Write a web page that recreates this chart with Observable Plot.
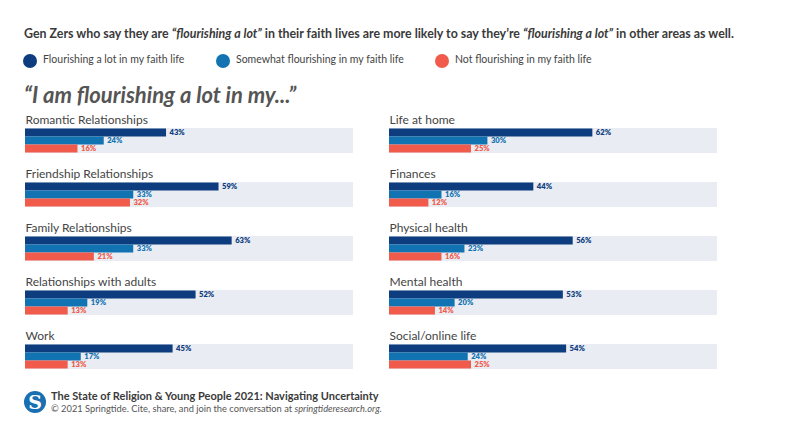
<!DOCTYPE html>
<html>
<head>
<meta charset="utf-8">
<script src="https://cdn.jsdelivr.net/npm/d3@7"></script>
<script src="https://cdn.jsdelivr.net/npm/@observablehq/plot@0.6"></script>
<style>
  html, body { margin: 0; padding: 0; background: #fff; }
  body { width: 790px; height: 428px; position: relative; overflow: hidden; font-family: Lato, "Open Sans", sans-serif; color: #444; }
  .abs { position: absolute; white-space: nowrap; }
  #title { left: 24px; top: 26px; font-size: 12.4px; font-weight: 700; color: #3a3a3a; }
  #legend { left: 0; top: 53px; font-size: 10.5px; color: #444; }
  .sw { position: absolute; width: 14px; height: 14px; border-radius: 50%; }
  .lt { position: absolute; top: 0; }
  #subtitle { left: 24px; top: 81px; font-size: 22px; font-weight: 700; font-style: italic; color: #555; }
  #chart { position: absolute; left: 0; top: 100px; }
  #logo { left: 24px; top: 391px; width: 22px; height: 22px; border-radius: 50%; background: #1a6fb0; color: #fff; font-weight: 900; font-size: 19px; line-height: 22px; text-align: center; font-family: "DejaVu Serif", serif; }
  #foot1 { left: 51px; top: 389px; font-size: 11px; font-weight: 700; color: #3a3a3a; }
  #foot2 { left: 51px; top: 403px; font-size: 9.3px; color: #555; }
</style>
</head>
<body>
<div id="title" class="abs"></div>
<div id="legend" class="abs"></div>
<div id="subtitle" class="abs"></div>
<div id="chart"></div>
<div id="logo" class="abs">S</div>
<div id="foot1" class="abs"></div>
<div id="foot2" class="abs"></div>
<script>
const titleHtml = "Gen Zers who say they are <i>“flourishing a lot”</i> in their faith lives are more likely to say they’re <i>“flourishing a lot”</i> in other areas as well.";
const subtitle = "“I am flourishing a lot in my...”";
const footer1 = "The State of Religion & Young People 2021: Navigating Uncertainty";
const footer2Html = "© 2021 Springtide. Cite, share, and join the conversation at <i>springtideresearch.org.</i>";

const series = ["Flourishing a lot in my faith life", "Somewhat flourishing in my faith life", "Not flourishing in my faith life"];
const seriesColors = ["#0d3c7f", "#1273b3", "#f05b4b"];

const leftCategories = ["Romantic Relationships", "Friendship Relationships", "Family Relationships", "Relationships with adults", "Work"];
const rightCategories = ["Life at home", "Finances", "Physical health", "Mental health", "Social/online life"];

const leftFlourishing = [43, 59, 63, 52, 45];
const leftSomewhat    = [24, 33, 33, 19, 17];
const leftNot         = [16, 32, 21, 13, 13];

const rightFlourishing = [62, 44, 56, 53, 54];
const rightSomewhat    = [30, 16, 23, 20, 24];
const rightNot         = [25, 12, 16, 14, 25];

// Build tables
const groups = [];
const rows = [];
function addColumn(col, cats, vals) {
  cats.forEach((c, i) => {
    groups.push({col, row: i, category: c});
    series.forEach((s, k) => rows.push({col, row: i, category: c, series: s, value: vals[k][i]}));
  });
}
addColumn("left", leftCategories, [leftFlourishing, leftSomewhat, leftNot]);
addColumn("right", rightCategories, [rightFlourishing, rightSomewhat, rightNot]);

// Header
document.getElementById("title").innerHTML = titleHtml;
document.getElementById("subtitle").textContent = subtitle;
document.getElementById("foot1").textContent = footer1;
document.getElementById("foot2").innerHTML = footer2Html;
const legend = document.getElementById("legend");
const legendX = [23, 216, 435];
series.forEach((s, k) => {
  const sw = document.createElement("span");
  sw.className = "sw";
  sw.style.left = legendX[k] + "px";
  sw.style.top = "1px";
  sw.style.background = seriesColors[k];
  const t = document.createElement("span");
  t.className = "lt";
  t.style.left = (legendX[k] + 20) + "px";
  t.textContent = s;
  legend.appendChild(sw);
  legend.appendChild(t);
});

const chart = Plot.plot({
  width: 790,
  height: 280,
  marginLeft: 24,
  marginRight: 72,
  marginTop: 27.5,
  marginBottom: 10,
  style: {fontFamily: "Lato, 'Open Sans', sans-serif", background: "transparent"},
  fx: {domain: ["left", "right"], axis: null, paddingInner: 0.0986, paddingOuter: 0},
  fy: {domain: [0, 1, 2, 3, 4], axis: null, paddingInner: 0.5404, paddingOuter: 0},
  x: {domain: [0, 100], axis: null},
  y: {domain: series, axis: null, paddingInner: 0, paddingOuter: 0},
  color: {domain: series, range: seriesColors},
  marks: [
    Plot.barX(groups, {fx: "col", fy: "row", x1: 0, x2: 100, fill: "#e9ecf2"}),
    Plot.barX(rows, {fx: "col", fy: "row", y: "series", x: "value", fill: "series"}),
    Plot.text(rows, {fx: "col", fy: "row", y: "series", x: "value", text: d => d.value + "%", fill: "series",
      textAnchor: "start", dx: 3, fontSize: 7.6, fontWeight: 800}),
    Plot.text(groups, {fx: "col", fy: "row", text: "category", frameAnchor: "top-left", textAnchor: "start",
      lineAnchor: "bottom", dy: -5, fontSize: 12, fill: "#444"})
  ]
});
document.getElementById("chart").appendChild(chart);
</script>
</body>
</html>
